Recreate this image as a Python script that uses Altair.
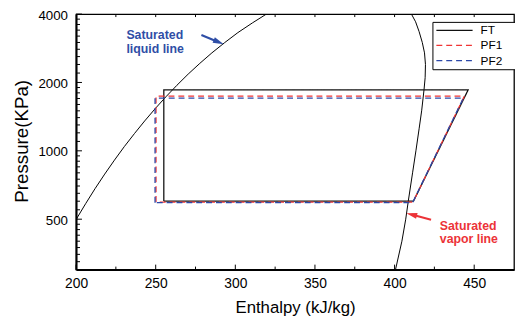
import altair as alt
import pandas as pd

W, H = 444, 259
FONT = "Liberation Sans"

# ---- data ----
# saturated liquid line: enthalpy (kJ/kg), pressure (kPa)
liq_h = [200.0, 206.0, 211.9, 218.0, 224.1, 230.3, 236.7, 243.1, 249.7, 256.4,
         263.3, 270.4, 277.7, 285.3, 293.3, 301.6, 310.7, 319.5]
liq_p = [498, 585, 681, 790, 910, 1044, 1192, 1354, 1534, 1729,
         1943, 2177, 2427, 2700, 2995, 3315, 3657, 4000]
# saturated vapor line
vap_h = [400.6, 404.6, 407.0, 408.6, 411.3, 413.4, 415.4, 417.0, 418.5, 419.2,
         419.4, 418.8, 417.4, 415.4, 413.2, 410.6]
vap_p = [300, 400, 500, 600, 800, 1000, 1250, 1500, 1860, 2100,
         2400, 2700, 3000, 3350, 3700, 4000]

# refrigeration cycles
series = ["FT", "PF1", "PF2"]
ft_h = [255.1, 255.1, 446.2, 411.9, 255.1]
ft_p = [601, 1855, 1855, 601, 601]
pf1_h = [250.2, 250.2, 443.8, 411.6, 250.2]
pf1_p = [595, 1741, 1741, 595, 595]
pf2_h = [249.6, 249.6, 443.2, 411.3, 249.6]
pf2_p = [591, 1708, 1708, 591, 591]

# axis ticks
x_major = [200, 250, 300, 350, 400, 450]
x_minor = [225, 275, 325, 375, 425]
x_top = [225, 250, 275, 300, 325, 350, 375, 400, 425, 450]
y_major = [500, 1000, 2000, 4000]
y_minor = ([325, 350, 375, 400, 425, 450, 475]
           + [550, 600, 650, 700, 750, 800, 850, 900, 950]
           + [1100, 1200, 1300, 1400, 1500, 1600, 1700, 1800, 1900]
           + [2200, 2400, 2600, 2800, 3000, 3200, 3400, 3600, 3800])

# annotations
liq_lines = ["Saturated", "liquid line"]
liq_lab_h = [231.6, 231.6]
liq_lab_p = [3249, 2805]
vap_lines = ["Saturated", "vapor line"]
vap_lab_h = [428.4, 428.4]
vap_lab_p = [466, 408]
liq_arrow = {"h": [278.7], "p": [3236], "h2": [289.6], "p2": [3010]}
vap_arrow = {"h": [422.9], "p": [497], "h2": [410.7], "p2": [524]}

# ---- tables ----
dome = pd.DataFrame({
    "h": liq_h + vap_h,
    "p": liq_p + vap_p,
    "curve": ["liq"] * len(liq_h) + ["vap"] * len(vap_h),
    "idx": list(range(len(liq_h))) + list(range(len(vap_h))),
})
rows = []
for name, hs, ps in zip(series, [ft_h, pf1_h, pf2_h], [ft_p, pf1_p, pf2_p]):
    for i, (h, p) in enumerate(zip(hs, ps)):
        rows.append({"series": name, "h": h, "p": p, "idx": i})
cycle = pd.DataFrame(rows)

xs = alt.Scale(domain=[200, 475], nice=False, zero=False)
ys = alt.Scale(type="log", domain=[300, 4000], nice=False)

x_axis = alt.Axis(values=x_major, format="d", title="Enthalpy (kJ/kg)", grid=False,
                  ticks=False, tickSize=0, domainColor="black", domainWidth=2,
                  labelFont=FONT, labelFontSize=14, labelColor="black", labelPadding=7,
                  labelFlush=False, labelOverlap=False,
                  titleFont=FONT, titleFontSize=17, titleFontWeight="normal",
                  titleColor="black", titleX=222, titleY=44, titleAlign="center",
                  titleBaseline="alphabetic")
y_axis = alt.Axis(values=y_major, format="d", title="Pressure(KPa)", grid=False,
                  ticks=False, tickSize=0, domainColor="black", domainWidth=2,
                  labelFont=FONT, labelFontSize=13.5, labelColor="black", labelPadding=8.7,
                  labelOverlap=False, labelOffset=1,
                  titleFont=FONT, titleFontSize=19, titleFontWeight="normal",
                  titleColor="black", titleX=-49.3, titleY=128.5, titleAlign="center",
                  titleBaseline="alphabetic", titleAngle=270)

X = lambda f: alt.X(f, scale=xs, axis=x_axis, title="Enthalpy (kJ/kg)")
Y = lambda f: alt.Y(f, scale=ys, axis=y_axis, title="Pressure(KPa)")

dome_layer = alt.Chart(dome).mark_line(color="black", strokeWidth=1, clip=True).encode(
    x=X("h:Q"), y=Y("p:Q"), detail="curve:N", order="idx:Q",
)

leg = alt.Legend(title="\u00a0", titleOrient="right", titlePadding=21, titleFontSize=1,
                 orient="none", legendX=361.3, legendY=7.9,
                 direction="vertical", strokeColor="black", fillColor="white",
                 padding=2.6, rowPadding=3.3,
                 symbolType="M-3.67,0L3.67,0", symbolSize=100,
                 symbolOffset=13.75, symbolStrokeWidth=1.3, labelOffset=20.4,
                 labelFont=FONT, labelFontSize=12, labelColor="black")

cycle_layer = alt.Chart(cycle).mark_line(strokeWidth=1.3, clip=True).encode(
    x=X("h:Q"), y=Y("p:Q"),
    order="idx:Q",
    color=alt.Color("series:N",
                    scale=alt.Scale(domain=series, range=["#111111", "#F03434", "#2C48A8"]),
                    legend=leg),
    strokeDash=alt.StrokeDash("series:N",
                              scale=alt.Scale(domain=series, range=[[1, 0], [6, 4], [6, 4]]),
                              legend=leg),
)

def xticks(vals, y0, y1):
    return alt.Chart(pd.DataFrame({"h": vals})).mark_rule(color="black", strokeWidth=1).encode(
        x=X("h:Q"), y=alt.value(y0), y2=alt.value(y1))

def yticks(vals, length):
    return alt.Chart(pd.DataFrame({"p": vals})).mark_rule(color="black", strokeWidth=1).encode(
        y=Y("p:Q"), x=alt.value(0), x2=alt.value(length))

tick_layers = [
    xticks(x_major, H - 5, H),
    xticks(x_minor, H - 3, H),
    xticks(x_top, 0, 3),
    yticks(y_major, 6),
    yticks(y_minor, 4),
]

liq_text = alt.Chart(pd.DataFrame({"t": liq_lines, "h": liq_lab_h, "p": liq_lab_p})).mark_text(
    align="left", baseline="middle", font=FONT, fontSize=12.5, fontWeight="bold", color="#2F4EA6"
).encode(x=X("h:Q"), y=Y("p:Q"), text="t:N")

vap_text = alt.Chart(pd.DataFrame({"t": vap_lines, "h": vap_lab_h, "p": vap_lab_p})).mark_text(
    align="left", baseline="middle", font=FONT, fontSize=12.5, fontWeight="bold", color="#EC3338"
).encode(x=X("h:Q"), y=Y("p:Q"), text="t:N")

def arrow(d, color, angle):
    df = pd.DataFrame(d)
    shaft = alt.Chart(df).mark_rule(color=color, strokeWidth=2.2).encode(
        x=X("h:Q"), y=Y("p:Q"), x2="h2:Q", y2="p2:Q")
    head = alt.Chart(df).mark_point(shape="M1,0L-1,-0.55L-1,0.55Z", filled=True, opacity=1,
                                     size=121, angle=angle, color=color, strokeWidth=0).encode(
        x=X("h2:Q"), y=Y("p2:Q"))
    return [shaft, head]

layers = ([dome_layer, cycle_layer] + tick_layers + [liq_text, vap_text]
          + arrow(liq_arrow, "#2F4EA6", 22.5) + arrow(vap_arrow, "#EC3338", 195))

chart = alt.layer(*layers).properties(
    width=W, height=H,
    autosize=alt.AutoSizeParams(type="none"),
    padding={"left": 69, "top": 4, "right": 1, "bottom": 53},
    background="white",
).configure_view(stroke="black", strokeWidth=1.3)

chart.save("out.html", embed_options={"renderer": "svg", "actions": False})
